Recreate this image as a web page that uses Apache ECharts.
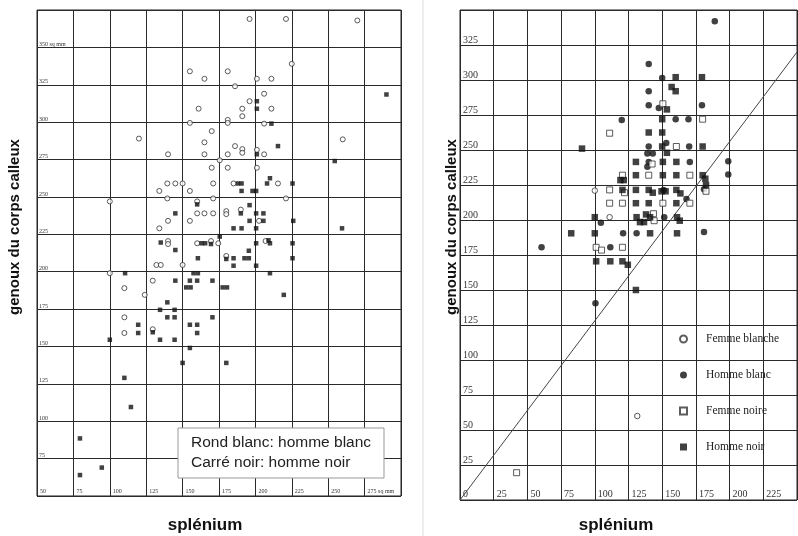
<!DOCTYPE html>
<html>
<head>
<meta charset="utf-8">
<script src="https://cdn.jsdelivr.net/npm/echarts@6/dist/echarts.min.js"></script>
<style>
html, body { margin: 0; padding: 0; background: #fff; }
#panel { width: 798px; height: 536px; }
</style>
</head>
<body>
<div id="panel"></div>
<script>
// figure de gauche : surfaces en sq mm
var leftXUnit = 'sq mm';
var leftRondBlanc = [
    [196,369],[221,369],[270,368],[225,339],[155,334],[181,334],[165,329],[201,329],[211,329],[186,324],
    [206,319],[196,314],[161,309],[191,309],[211,309],[191,304],[181,301.5],[181,299.5],[155,299.5],[206,299],
    [170,294],[120,289],[260,288.5],[165,286.5],[186,284],[191,282],[191,279.5],[201,281.5],[206,278.5],[140,278.5],
    [165,278.5],[181,278.5],[175.5,274.5],[170,269.5],[181,269.5],[201,269.5],
    [139.5,259],[145,259],[150,259],[171,259],[185,259],[215.5,259],[134,254],[155,254],[139.5,249],[171,249],
    [221,249],[160,247],[100,247],[160,239],[165,239],[171,239],[180,240.5],[180,238.5],[190,241.5],[202.5,234],
    [140,234],[155,234],[134,229],[140,220.5],[140,218.5],[160,219],[169.5,220.5],[174.5,219],[207,220.5],[180,210.5],
    [132,204.5],[135,204.5],[150,204.5],[100,199],[129.5,194],[110,189],[124,184.5],[110,169.5],[129.5,161.5],[110,159]
];
var leftCarreNoir = [
    [201,314],[201,309],[211,299],[290,318.5],[215.5,284],[201,278.5],[254.5,274],
    [188,259],[190.5,259],[208,259],[210,262.5],[225.5,259],[190.5,254],[198,254],[200.5,254],[160,245],[196,244.5],
    [145,239],[190,239],[200.5,239],[205.5,239],[196,234],[205.5,234],[226,234],[185,229],[190.5,229],[200.5,229],[259.5,229],
    [175.5,223.5],[135,219.5],[163,219],[165.5,219],[169.5,218.5],[200.5,219],[209,221],[210,219],[225.5,219],[145,214.5],
    [195.5,214],[180,208.5],[160.5,209],[185,209],[192.5,209],[195.5,209],[225.5,209],[185,204],[200.5,204],
    [110.5,199],[157.5,199],[160.5,199],[210,199],[145,194],[155,194],[160,194],[170.5,194],
    [152.5,189.5],[155.5,189.5],[177.5,189.5],[180.5,189.5],[219.5,184.5],[139.5,179.5],[134.5,174.5],[144.5,174.5],
    [139.5,169.5],[144.5,169.5],[170.5,169.5],[119.5,164.5],[155,164.5],[160,164.5],[129.5,159.5],[119.5,159],[160,159],
    [100,154.5],[134.5,154.5],[144.5,154.5],[155,149],[150,139],[180,139],[110,129],[114.5,109.5],
    [79.5,88.5],[94.5,69],[79.5,64]
];

// figure de droite
var rightFemmeBlanche = [[100,221],[111,202],[131.5,60]];
var rightHommeBlanc = [
    [189,342],[140,311.5],[150,301.5],[140,292],[140,282],[147.5,280],[179.5,282],[120,271.5],[160,272],[169.5,272],
    [140,252.5],[153,255],[170,252.5],[139,247.5],[143,247.5],[140,241.5],[139,238],[170.5,241.5],[199,242],[199,232.5],
    [181,222],[151,221.5],[168,215],[104.5,198],[151.5,202],[121,190.5],[131,190.5],[181,191.5],[111.5,180.5],
    [60.5,180.5],[100.5,140.5]
];
var rightFemmeNoire = [
    [150.5,283],[180,272],[111,262],[160.5,252.5],[142.5,240],[140,232],[170.5,232],[120.5,232],[182.5,220.5],
    [111,221.5],[122,219.5],[111,212],[120.5,212],[150.5,212],[170.5,212],[143.5,204.5],[144,199.5],
    [101,180.5],[105,178.5],[120.5,180.5],[42,19.5]
];
var rightHommeNoir = [
    [160,302],[179.5,302],[157,295],[160,292],[153.5,279],[150,272],[140,262.5],[150,262.5],[90.5,251],[150,252.5],
    [153.5,248],[180,252.5],[130.5,241.5],[150.5,241.5],[160.5,241.5],[130.5,232],[150.5,232],[160.5,232],[180,232],
    [182,229.5],[182.5,225],[119,228.5],[121.5,228.5],[120.5,221.5],[130.5,221.5],[140,221.5],[143,219.5],[149.5,220.5],
    [152.5,220.5],[160.5,221.5],[163.5,219],[130.5,212],[140,212],[160.5,212],[100,202],[131,202],[133.5,198.5],
    [136.5,198.5],[138,204],[141,202],[161,202],[163,199.5],[82.5,190.5],[100,190.5],[141,190.5],[161,190.5],
    [101,170.5],[111.5,170.5],[120.5,170.5],[124.5,168],[130.5,150]
];
var diagonale = [[0,0],[250,320]];

var titreY = 'genoux du corps calleux';
var titreX = 'splénium';
var legendeGauche = 'Rond blanc: homme blanc\nCarré noir: homme noir';
var legendeDroite = ['Femme blanche', 'Homme blanc', 'Femme noire', 'Homme noir'];

var serif = '"Liberation Serif", "DejaVu Serif", serif';
var sans = '"Liberation Sans", Arial, sans-serif';
var gridLine = { lineStyle: { color: '#2a2a2a', width: 1 } };

var myChart = echarts.init(document.getElementById('panel'));
myChart.setOption({
    backgroundColor: '#fff',
    animation: false,
    grid: [
        { left: 37, top: 10, width: 364, height: 486, show: true, borderColor: '#222', borderWidth: 1, outerBoundsMode: 'none' },
        { left: 460, top: 10, width: 337, height: 490, show: true, borderColor: '#222', borderWidth: 1, outerBoundsMode: 'none' }
    ],
    xAxis: [
        {
            gridIndex: 0, type: 'value', min: 50, max: 300, interval: 25,
            axisLine: { show: false }, axisTick: { show: false }, splitLine: gridLine,
            axisLabel: {
                inside: true, align: 'left', verticalAlign: 'bottom', margin: 2, padding: [0, 0, 0, 3],
                fontSize: 6, color: '#333', fontFamily: serif, showMaxLabel: false,
                formatter: function (v) { return v == 275 ? v + ' ' + leftXUnit : v; }
            }
        },
        {
            gridIndex: 1, type: 'value', min: 0, max: 250, interval: 25,
            axisLine: { show: false }, axisTick: { show: false }, splitLine: gridLine,
            axisLabel: {
                inside: true, align: 'left', verticalAlign: 'bottom', margin: 1, padding: [0, 0, 0, 3],
                fontSize: 10, color: '#333', fontFamily: serif, showMaxLabel: false
            }
        }
    ],
    yAxis: [
        {
            gridIndex: 0, type: 'value', min: 50, max: 375, interval: 25,
            axisLine: { show: false }, axisTick: { show: false }, splitLine: gridLine,
            axisLabel: {
                inside: true, align: 'left', verticalAlign: 'bottom', margin: 2,
                fontSize: 6, color: '#333', fontFamily: serif, showMinLabel: false, showMaxLabel: false,
                formatter: function (v) { return v == 350 ? v + ' ' + leftXUnit : v; }
            }
        },
        {
            gridIndex: 1, type: 'value', min: 0, max: 350, interval: 25,
            axisLine: { show: false }, axisTick: { show: false }, splitLine: gridLine,
            axisLabel: {
                inside: true, align: 'left', verticalAlign: 'bottom', margin: 3,
                fontSize: 10, color: '#333', fontFamily: serif, showMinLabel: false, showMaxLabel: false
            }
        }
    ],
    legend: {
        left: 679, top: 332, padding: 0, orient: 'vertical', itemGap: 22, itemWidth: 7, itemHeight: 7,
        selectedMode: false, data: legendeDroite,
        textStyle: { fontFamily: serif, fontSize: 11.5, color: '#222', lineHeight: 14, padding: [0, 0, 0, 14] }
    },
    series: [
        {
            type: 'scatter', name: 'Rond blanc', xAxisIndex: 0, yAxisIndex: 0, data: leftRondBlanc,
            symbol: 'circle', symbolSize: 5, silent: true,
            itemStyle: { color: '#fff', borderColor: '#333', borderWidth: 1 }
        },
        {
            type: 'scatter', name: 'Carré noir', xAxisIndex: 0, yAxisIndex: 0, data: leftCarreNoir,
            symbol: 'rect', symbolSize: 4.5, silent: true,
            itemStyle: { color: '#111' }
        },
        {
            type: 'line', name: 'diagonale', xAxisIndex: 1, yAxisIndex: 1, data: diagonale,
            symbol: 'none', silent: true, lineStyle: { color: '#444', width: 1 }, z: 1
        },
        {
            type: 'scatter', name: 'Femme blanche', xAxisIndex: 1, yAxisIndex: 1, data: rightFemmeBlanche,
            symbol: 'circle', symbolSize: 5.5, silent: true,
            itemStyle: { color: '#fff', borderColor: '#333', borderWidth: 1 }
        },
        {
            type: 'scatter', name: 'Homme blanc', xAxisIndex: 1, yAxisIndex: 1, data: rightHommeBlanc,
            symbol: 'circle', symbolSize: 6.5, silent: true,
            itemStyle: { color: '#111' }
        },
        {
            type: 'scatter', name: 'Femme noire', xAxisIndex: 1, yAxisIndex: 1, data: rightFemmeNoire,
            symbol: 'rect', symbolSize: 6, silent: true,
            itemStyle: { color: '#fff', borderColor: '#333', borderWidth: 1 }
        },
        {
            type: 'scatter', name: 'Homme noir', xAxisIndex: 1, yAxisIndex: 1, data: rightHommeNoir,
            symbol: 'rect', symbolSize: 6.5, silent: true,
            itemStyle: { color: '#111' }
        }
    ],
    graphic: [
        { type: 'line', shape: { x1: 423, y1: 0, x2: 423, y2: 536 }, style: { stroke: '#ddd', lineWidth: 1 }, silent: true },
        { type: 'rect', shape: { x: 178, y: 428, width: 206, height: 50 }, style: { fill: '#fff', stroke: '#999', lineWidth: 1 }, z: 100 },
        {
            type: 'text', x: 191, y: 433, z: 101,
            style: { text: legendeGauche, font: '15.5px ' + sans, fill: '#222', lineHeight: 19.5, textVerticalAlign: 'top' }
        },
        {
            type: 'text', x: 15, y: 227, rotation: Math.PI / 2,
            style: { text: titreY, font: 'bold 15px ' + sans, fill: '#111', textAlign: 'center', textVerticalAlign: 'middle' }
        },
        {
            type: 'text', x: 452, y: 227, rotation: Math.PI / 2,
            style: { text: titreY, font: 'bold 15px ' + sans, fill: '#111', textAlign: 'center', textVerticalAlign: 'middle' }
        },
        {
            type: 'text', x: 205, y: 525,
            style: { text: titreX, font: 'bold 17px ' + sans, fill: '#111', textAlign: 'center', textVerticalAlign: 'middle' }
        },
        {
            type: 'text', x: 616, y: 525,
            style: { text: titreX, font: 'bold 17px ' + sans, fill: '#111', textAlign: 'center', textVerticalAlign: 'middle' }
        }
    ]
});
</script>
</body>
</html>
